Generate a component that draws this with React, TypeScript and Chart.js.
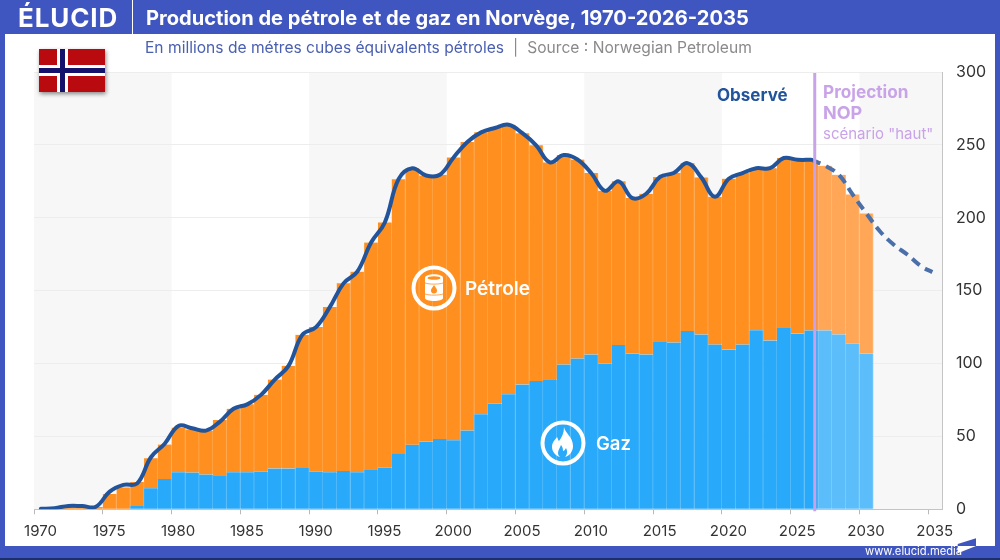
import { useEffect, useRef } from "react";
import { Chart, registerables } from "chart.js";

Chart.register(...registerables);

// values, in millions of m3 oil equivalent
const years = [
  1970, 1971, 1972, 1973, 1974, 1975, 1976, 1977, 1978, 1979, 1980, 1981, 1982,
  1983, 1984, 1985, 1986, 1987, 1988, 1989, 1990, 1991, 1992, 1993, 1994, 1995,
  1996, 1997, 1998, 1999, 2000, 2001, 2002, 2003, 2004, 2005, 2006, 2007, 2008,
  2009, 2010, 2011, 2012, 2013, 2014, 2015, 2016, 2017, 2018, 2019, 2020, 2021,
  2022, 2023, 2024, 2025, 2026, 2027, 2028, 2029, 2030,
];
const gasValues = [
  0, 0, 0, 0, 0, 0, 0, 2.3, 14.4, 20.8, 25.4, 25.2, 23.8, 22.9, 25.4, 25.4, 26,
  28, 28, 28.8, 25.9, 25.4, 26.2, 25.4, 27.5, 28.6, 38.4, 44.2, 46.5, 48.3,
  47.4, 54, 65.2, 72.5, 79, 85.6, 88, 89.2, 99.3, 103.4, 106.2, 100, 112.8,
  106.9, 106.2, 114.7, 114.4, 122.4, 119.9, 113, 109.6, 113, 122.9, 115.8,
  124.3, 120.6, 122.7, 122.7, 120, 113.5, 106.9,
];
const totalValues = [
  0.3, 0.8, 2.3, 2.2, 1.5, 10.5, 15, 18.8, 35, 44.4, 56, 54.8, 54, 61.3, 69,
  72, 78.5, 89, 98.4, 119.7, 125, 138.7, 155, 163, 183, 196.8, 226.5, 234, 229,
  229.5, 241.4, 252, 258.6, 261.6, 263.8, 258, 249.7, 238, 243, 240, 230.7,
  218.5, 225, 213.5, 216.5, 228, 230.7, 237.5, 227.7, 214.4, 226.8, 230.7, 234,
  234, 241, 239.8, 239.8, 235.7, 229.5, 216, 203,
];
const observedYears = years.slice(0, 57);
const observedLine = [
  0.3, 0.8, 2.3, 2.2, 1.8, 12.1, 16.7, 17.8, 35.7, 45, 57.2, 55.6, 54, 60, 69,
  72, 78.5, 89, 98.4, 119.7, 125, 138.7, 155, 163, 183, 196.8, 226.5, 234, 229,
  229.5, 241.4, 252, 258.6, 261.6, 263.8, 258, 249.7, 238, 243, 240, 230.7,
  218.5, 225, 213.5, 216.5, 228, 230.7, 237.5, 227.7, 214.4, 226.8, 230.7, 234,
  234, 241, 239.8, 239.8,
];
const projectionYears = [2026, 2027, 2028, 2029, 2030, 2031, 2032, 2033, 2034, 2034.8];
const projectionLine = [239.8, 235.7, 229.5, 216, 203, 190.6, 181.5, 174.6, 166.6, 162.7];

const xTicks = [1970, 1975, 1980, 1985, 1990, 1995, 2000, 2005, 2010, 2015, 2020, 2025, 2030, 2035];
const shadedDecades = [[1970, 1980], [1990, 2000], [2010, 2020], [2030, 2036]];
const projectionStart = 2026.75;
const lastObservedYear = 2026;

const FONT = "Inter, sans-serif";
const FRAME = "#3f55bf";
const LINE_SOLID = "#22549b";
const LINE_DASHED = "#4a6fa9";
const LILAC = "#c9a3e8";

const colorFor = (dark: string, light: string) =>
  years.map((y) => (y > lastObservedYear ? light : dark));

const decorPlugin = {
  id: "decor",
  beforeDraw(chart: Chart) {
    const { ctx, chartArea, scales } = chart;
    ctx.save();
    ctx.fillStyle = "#f7f7f8";
    shadedDecades.forEach(([from, to]) => {
      const x0 = scales.x.getPixelForValue(from);
      const x1 = scales.x.getPixelForValue(to);
      ctx.fillRect(x0, chartArea.top, x1 - x0, chartArea.bottom - chartArea.top);
    });
    ctx.restore();
  },
  afterDatasetsDraw(chart: Chart) {
    const { ctx, chartArea, scales } = chart;
    const x = scales.x.getPixelForValue(projectionStart);
    ctx.save();
    ctx.strokeStyle = LILAC;
    ctx.lineWidth = 3;
    ctx.beginPath();
    ctx.moveTo(x, chartArea.top + 1);
    ctx.lineTo(x, chartArea.bottom + 2);
    ctx.stroke();
    ctx.restore();
  },
};

const text = (style: React.CSSProperties): React.CSSProperties => ({
  position: "absolute",
  whiteSpace: "nowrap",
  fontFamily: FONT,
  lineHeight: 1,
  ...style,
});

const box = (x: number, y: number, w: number, h: number, background: string): React.CSSProperties => ({
  position: "absolute",
  left: x,
  top: y,
  width: w,
  height: h,
  background,
});

const Flag = () => (
  <svg
    width={66}
    height={43}
    viewBox="0 0 66 43"
    style={{ position: "absolute", left: 39, top: 49, filter: "drop-shadow(1px 2px 2px rgba(0,0,0,.45))" }}
  >
    <rect width={66} height={43} fill="#b80a0f" />
    <rect x={18} width={11} height={43} fill="#fff" />
    <rect y={16} width={66} height={11} fill="#fff" />
    <rect x={21} width={5} height={43} fill="#14126b" />
    <rect y={19} width={66} height={5} fill="#14126b" />
  </svg>
);

const BarrelIcon = () => (
  <svg width={48} height={48} viewBox="0 0 48 48" style={{ position: "absolute", left: 410, top: 264 }}>
    <circle cx={24} cy={24} r={20.5} fill="none" stroke="#fff" strokeWidth={4} />
    <path d="M15 14c0-5 18-5 18 0v20c0 4-18 4-18 0z" fill="#fff" />
    <ellipse cx={24} cy={14} rx={6.5} ry={1.8} fill="#ff8f1f" />
    <path d="M15 19c4 1.5 14 1.500 18 0M15 30c4 1.500 14 1.500 18 0" stroke="#ff8f1f" strokeWidth={0.8} fill="none" />
    <path d="M24 21c2 3 3 4 3 5.500a3 3 0 0 1-6 0c0-1.500 1-2.500 3-5.500z" fill="#ff8f1f" />
  </svg>
);

const FlameIcon = () => (
  <svg width={48} height={48} viewBox="0 0 48 48" style={{ position: "absolute", left: 539, top: 419 }}>
    <circle cx={24} cy={24} r={20.5} fill="none" stroke="#fff" strokeWidth={4} />
    <path
      d="M25 8c1 6 9 10 9 19 0 6-4 10-8 11 2-2 3-5 1-9-1 2-2 3-3 3 0-3-1-5-2-6-1 3-3 5-3 8 0 2 1 3 2 4-4-1-8-5-8-10 0-5 3-7 5-10 1 2 1 3 2 4 3-4 5-8 5-14z"
      fill="#fff"
    />
  </svg>
);

const App = () => {
  const canvasRef = useRef<HTMLCanvasElement>(null);

  useEffect(() => {
    document.body.style.margin = "0";
    if (!canvasRef.current) return;

    const chart = new Chart(canvasRef.current, {
      type: "bar",
      data: {
        datasets: [
          {
            type: "line",
            data: projectionYears.map((y, i) => ({ x: y + 0.5, y: projectionLine[i] })),
            borderColor: LINE_DASHED,
            borderWidth: 4,
            borderDash: [10, 6],
            pointRadius: 0,
            tension: 0.4,
            stack: "projection",
            order: 1,
          },
          {
            type: "line",
            data: observedYears.map((y, i) => ({ x: y + 0.5, y: observedLine[i] })),
            borderColor: LINE_SOLID,
            borderWidth: 4,
            borderCapStyle: "round",
            borderJoinStyle: "round",
            pointRadius: 0,
            tension: 0.4,
            stack: "observed",
            order: 0,
          },
          {
            label: "Gaz",
            data: years.map((y, i) => ({ x: y + 0.5, y: gasValues[i] })),
            backgroundColor: colorFor("#29a9f9", "#5bbdfa"),
            borderColor: colorFor("#5abdfa", "#85cefb"),
            borderWidth: { right: 1 },
            borderSkipped: false,
            stack: "total",
            order: 2,
          },
          {
            label: "Pétrole",
            data: years.map((y, i) => ({ x: y + 0.5, y: totalValues[i] - gasValues[i] })),
            backgroundColor: colorFor("#ff8f1f", "#ffa757"),
            borderColor: colorFor("#ffa850", "#ffbd80"),
            borderWidth: { right: 1 },
            borderSkipped: false,
            stack: "total",
            order: 3,
          },
        ],
      },
      options: {
        animation: false,
        responsive: false,
        layout: { padding: { left: 34, top: 72, right: 0, bottom: 0 } },
        plugins: { legend: { display: false }, tooltip: { enabled: false } },
        datasets: { bar: { barPercentage: 1, categoryPercentage: 1 } },
        scales: {
          x: {
            type: "linear",
            min: 1970,
            max: 2036,
            offset: false,
            stacked: true,
            afterFit: (s: any) => {
              s.height = 50.7;
            },
            afterBuildTicks: (s: any) => {
              s.ticks = xTicks.map((value) => ({ value }));
            },
            grid: { drawOnChartArea: false, color: "#b9b9b9", tickLength: 5, offset: false },
            border: { color: "#c4c4c4" },
            ticks: {
              autoSkip: false,
              maxRotation: 0,
              labelOffset: 6.5,
              padding: 8,
              color: "#333",
              font: { family: FONT, size: 15 },
              callback: (v: any) => String(v),
            },
          },
          y: {
            position: "right",
            min: 0,
            max: 300,
            stacked: true,
            afterFit: (s: any) => {
              s.width = 58;
            },
            grid: { color: "#ededed", drawTicks: false },
            border: { color: "#c4c4c4" },
            ticks: {
              stepSize: 50,
              padding: 14,
              color: "#333",
              font: { family: FONT, size: 16 },
            },
          },
        },
      },
      plugins: [decorPlugin],
    } as any);

    return () => chart.destroy();
  }, []);

  return (
    <div style={{ position: "relative", width: 1000, height: 560, overflow: "hidden", background: "#fff" }}>
      <canvas ref={canvasRef} width={1000} height={560} style={{ position: "absolute", left: 0, top: 0 }} />

      {/* frame */}
      <div style={box(0, 0, 1000, 34, FRAME)} />
      <div style={box(0, 0, 5, 560, FRAME)} />
      <div style={box(995, 0, 5, 560, FRAME)} />
      <div style={box(0, 546, 1000, 14, FRAME)} />
      <div style={box(0, 558, 1000, 2, "#1d2f6b")} />
      <div style={box(132, 0, 1, 34, "#fff")} />

      <div style={text({ left: 18, top: 5, fontSize: 26, fontWeight: 700, color: "#fff", letterSpacing: 0.9 })}>ÉLUCID</div>
      <div style={text({ left: 146, top: 8, fontSize: 20.1, fontWeight: 700, color: "#fff" })}>
        Production de pétrole et de gaz en Norvège, 1970-2026-2035
      </div>
      <div style={text({ left: 145, top: 40, fontSize: 15.6, color: "#4a5fb0" })}>
        En millions de métres cubes équivalents pétroles
        <span style={{ color: "#8a8a8a", marginLeft: 9, marginRight: 9 }}>|</span>
        <span style={{ color: "#8a8a8a" }}>Source : Norwegian Petroleum</span>
      </div>

      <Flag />

      <div style={text({ left: 717, top: 87, fontSize: 17, fontWeight: 700, color: LINE_SOLID })}>Observé</div>
      <div style={text({ left: 823, top: 83, fontSize: 17.2, fontWeight: 700, color: LILAC })}>Projection</div>
      <div style={text({ left: 823, top: 104, fontSize: 18, fontWeight: 700, color: LILAC })}>NOP</div>
      <div style={text({ left: 823, top: 126, fontSize: 15, color: LILAC })}>scénario "haut"</div>

      <BarrelIcon />
      <div style={text({ left: 465, top: 279, fontSize: 19, fontWeight: 600, color: "#fff" })}>Pétrole</div>
      <FlameIcon />
      <div style={text({ left: 596, top: 434, fontSize: 18.5, fontWeight: 600, color: "#fff" })}>Gaz</div>

      <div style={text({ left: 865, top: 546, fontSize: 11.2, color: "#fff" })}>www.elucid.media</div>
      <svg width={20} height={18} viewBox="0 0 20 18" style={{ position: "absolute", left: 957, top: 538 }}>
        <path d="M0.7 6 19 0.3V8H0.7z" fill={FRAME} />
        <path d="M0.7 8H19L0.7 15.300z" fill="#fff" />
      </svg>
    </div>
  );
};

export default App;
